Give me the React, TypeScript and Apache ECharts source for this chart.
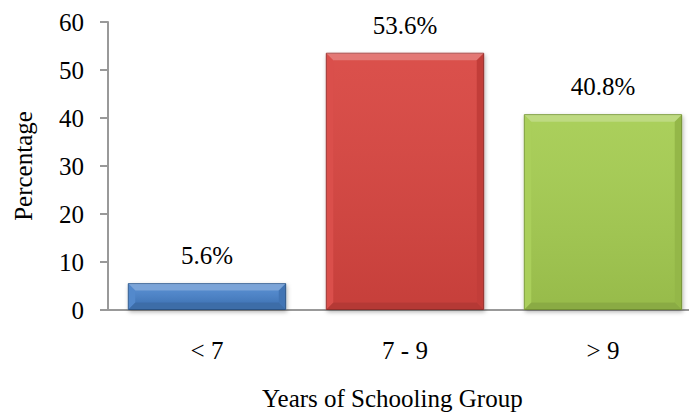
import React, { useEffect, useRef } from "react";
import * as echarts from "echarts";

const categories = ["< 7", "7 - 9", "> 9"];
const values = [5.6, 53.6, 40.8];
const yTicks = [0, 10, 20, 30, 40, 50, 60];
const palettes = [
  { body: "#4a82c9", border: "#2f5a8f" },
  { body: "#d84441", border: "#9a302e" },
  { body: "#a5cc51", border: "#7a9a38" },
];

const FONT = "Liberation Serif";

export default function App() {
  const ref = useRef<HTMLDivElement>(null);
  useEffect(() => {
    if (!ref.current) return;
    const chart = echarts.init(ref.current, null, { renderer: "svg" });
    chart.setOption({
      animation: false,
      backgroundColor: "#ffffff",
      textStyle: { fontFamily: FONT },
      grid: { left: 108, top: 22, width: 594, height: 288 },
      xAxis: {
        type: "category",
        data: categories,
        axisLine: { lineStyle: { color: "#999999", width: 2 } },
        axisTick: { show: false },
        axisLabel: { color: "#000", fontFamily: FONT, fontSize: 25, margin: 28 },
      },
      yAxis: {
        type: "value",
        min: yTicks[0],
        max: yTicks[yTicks.length - 1],
        interval: 10,
        name: "Percentage",
        nameLocation: "middle",
        nameGap: 72,
        nameTextStyle: { color: "#000", fontFamily: FONT, fontSize: 25 },
        axisLine: { show: true, lineStyle: { color: "#999999", width: 2 } },
        axisTick: { show: true, length: 8, lineStyle: { color: "#999999", width: 2 } },
        splitLine: { show: false },
        axisLabel: { color: "#000", fontFamily: FONT, fontSize: 25, margin: 24 },
      },
      graphic: [
        {
          type: "text",
          left: 262,
          top: 386,
          style: {
            text: "Years of Schooling Group",
            fill: "#000",
            font: `25px ${FONT}`,
          },
        },
      ],
      series: [
        {
          type: "bar",
          barCategoryGap: "20%",
          data: values.map((v, i) => ({
            value: v,
            itemStyle: {
              color: palettes[i].body,
              borderColor: palettes[i].border,
              borderWidth: 1,
              shadowColor: "rgba(0,0,0,0.3)",
              shadowBlur: 4,
              shadowOffsetX: 1,
              shadowOffsetY: 2,
            },
          })),
          label: {
            show: true,
            position: "top",
            distance: 15,
            formatter: (p: any) => p.value.toFixed(1) + "%",
            color: "#000",
            fontFamily: FONT,
            fontSize: 25,
          },
        },
        {
          type: "custom",
          z: 5,
          silent: true,
          data: values.map((v, i) => [i, v]),
          renderItem: (params: any, api: any) => {
            const top = api.coord([api.value(0), api.value(1)]);
            const base = api.coord([api.value(0), 0]);
            const w = api.size([1, 0])[0] * 0.8;
            const x0 = top[0] - w / 2 + 0.5;
            const x1 = top[0] + w / 2 - 0.5;
            const y0 = top[1] + 0.5;
            const y1 = base[1] - 0.5;
            const b = Math.min(7, (y1 - y0) / 2);
            return {
              type: "group",
              children: [
                {
                  type: "polygon",
                  shape: { points: [[x0, y0], [x1, y0], [x1 - b, y0 + b], [x0 + b, y0 + b]] },
                  style: { fill: "rgba(255,255,255,0.28)" },
                },
                {
                  type: "polygon",
                  shape: { points: [[x0, y0], [x0 + b, y0 + b], [x0 + b, y1 - b], [x0, y1]] },
                  style: { fill: "rgba(255,255,255,0.06)" },
                },
                {
                  type: "polygon",
                  shape: { points: [[x1, y0], [x1 - b, y0 + b], [x1 - b, y1 - b], [x1, y1]] },
                  style: { fill: "rgba(0,0,0,0.10)" },
                },
                {
                  type: "polygon",
                  shape: { points: [[x0, y1], [x0 + b, y1 - b], [x1 - b, y1 - b], [x1, y1]] },
                  style: { fill: "rgba(0,0,0,0.16)" },
                },
                {
                  type: "rect",
                  shape: { x: x0 + b, y: y0 + b, width: x1 - x0 - 2 * b, height: Math.max(0, y1 - y0 - 2 * b) },
                  style: {
                    fill: new echarts.graphic.LinearGradient(0, 0, 0, 1, [
                      { offset: 0, color: "rgba(255,255,255,0.06)" },
                      { offset: 1, color: "rgba(0,0,0,0.08)" },
                    ]),
                  },
                },
              ],
            };
          },
        },
      ],
    });
    return () => chart.dispose();
  }, []);
  return (
    <div style={{ position: "absolute", left: 0, top: 0, width: 689, height: 416, overflow: "hidden" }}>
      <div ref={ref} style={{ width: 720, height: 416 }} />
    </div>
  );
}
